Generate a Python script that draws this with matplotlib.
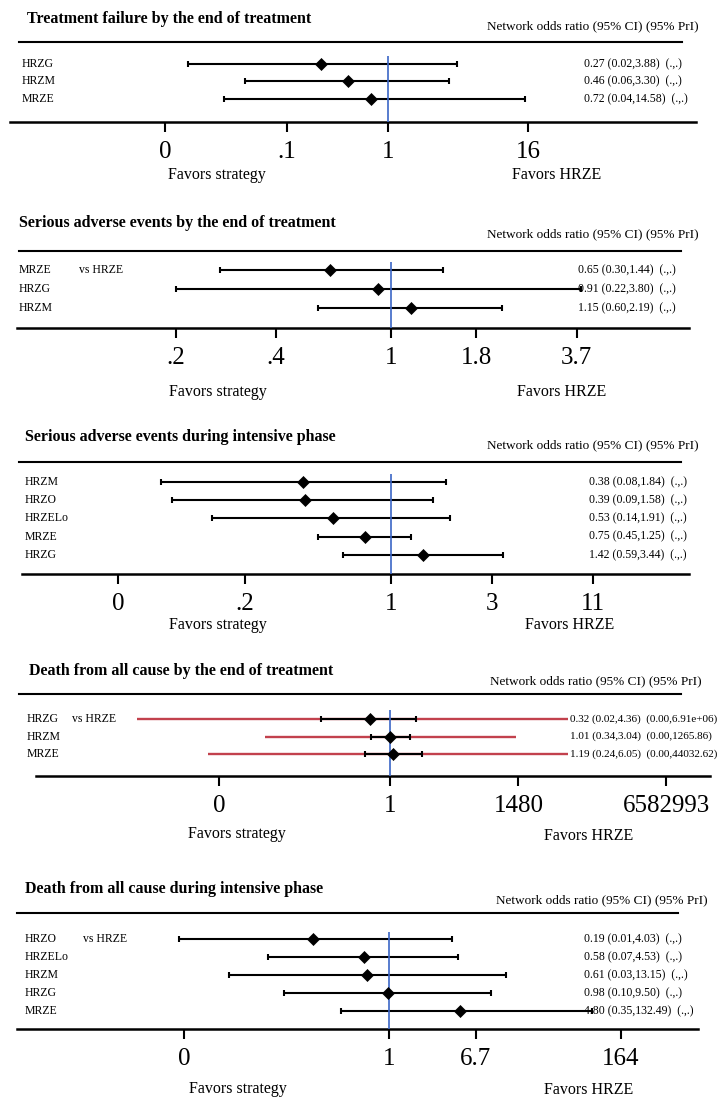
import numpy as np
import matplotlib.pyplot as plt
from matplotlib import transforms

plt.rcParams['font.family'] = ['Liberation Serif', 'DejaVu Serif']

W, H = 723, 1097
BLUE = '#3b66c6'
RED = '#c2414d'

# ---------------------------
# Data: network odds ratios vs HRZE
# ---------------------------
TF_TITLE = "Treatment failure by the end of treatment"
TF_NAMES = ["HRZG", "HRZM", "MRZE"]
TF_OR = [0.27, 0.46, 0.72]
TF_LO = [0.02, 0.06, 0.04]
TF_HI = [3.88, 3.30, 14.58]
TF_TICKS = [0.0127, 0.138, 1, 15.6]
TF_TICKLABELS = ["0", ".1", "1", "16"]

SAE_TITLE = "Serious adverse events by the end of treatment"
SAE_NAMES = ["MRZE", "HRZG", "HRZM"]
SAE_OR = [0.65, 0.91, 1.15]
SAE_LO = [0.30, 0.22, 0.60]
SAE_HI = [1.44, 3.80, 2.19]
SAE_TICKS = [0.22, 0.445, 1, 1.82, 3.7]
SAE_TICKLABELS = [".2", ".4", "1", "1.8", "3.7"]

SAEI_TITLE = "Serious adverse events during intensive phase"
SAEI_NAMES = ["HRZM", "HRZO", "HRZELo", "MRZE", "HRZG"]
SAEI_OR = [0.38, 0.39, 0.53, 0.75, 1.42]
SAEI_LO = [0.08, 0.09, 0.14, 0.45, 0.59]
SAEI_HI = [1.84, 1.58, 1.91, 1.25, 3.44]
SAEI_TICKS = [0.0498, 0.2, 1, 3.03, 9.2]
SAEI_TICKLABELS = ["0", ".2", "1", "3", "11"]

D_TITLE = "Death from all cause by the end of treatment"
D_NAMES = ["HRZG", "HRZM", "MRZE"]
D_OR = [0.32, 1.01, 1.19]
D_LO = [0.02, 0.34, 0.24]
D_HI = [4.36, 3.04, 6.05]
D_PRI_LO = [1.5e-8, 8.1e-4, 3.2e-5]
D_PRI_HI = [6.91e6, 1265.86, 44032.62]
D_TICKS = [6e-5, 1, 1480, 6582993]
D_TICKLABELS = ["0", "1", "1480", "6582993"]

DI_TITLE = "Death from all cause during intensive phase"
DI_NAMES = ["HRZO", "HRZELo", "HRZM", "HRZG", "MRZE"]
DI_OR = [0.19, 0.58, 0.61, 0.98, 4.80]
DI_LO = [0.01, 0.07, 0.03, 0.10, 0.35]
DI_HI = [4.03, 4.53, 13.15, 9.50, 132.49]
DI_TICKS = [0.011, 1, 6.7, 164]
DI_TICKLABELS = ["0", "1", "6.7", "164"]

# ---------------------------
# Panel layout (pixels)
# ---------------------------
PANELS = [
    dict(title=TF_TITLE, names=TF_NAMES, est=TF_OR, lo=TF_LO, hi=TF_HI,
         ticks=TF_TICKS, ticklabels=TF_TICKLABELS, vs=False,
         title_xy=(27, 19), head_xy=(699, 26), rule=(19, 682, 42),
         row0=64, step=17.5, blue_top=56, axis=(10, 696, 122),
         center=388, scale=51, label_x=22, text_x=584, text_size=8.5,
         fav=((217, 175), (557, 175)), clip=None),
    dict(title=SAE_TITLE, names=SAE_NAMES, est=SAE_OR, lo=SAE_LO, hi=SAE_HI,
         ticks=SAE_TICKS, ticklabels=SAE_TICKLABELS, vs=True, vs_x=79,
         title_xy=(19, 223), head_xy=(699, 234), rule=(19, 681, 251),
         row0=270, step=19, blue_top=262, axis=(17, 689, 328),
         center=391, scale=142, label_x=19, text_x=578, text_size=8.5,
         fav=((218, 392), (562, 392)), clip=None),
    dict(title=SAEI_TITLE, names=SAEI_NAMES, est=SAEI_OR, lo=SAEI_LO, hi=SAEI_HI,
         ticks=SAEI_TICKS, ticklabels=SAEI_TICKLABELS, vs=False,
         title_xy=(25, 437), head_xy=(699, 445), rule=(19, 681, 462),
         row0=482, step=18.2, blue_top=474, axis=(22, 689, 574),
         center=391, scale=91, label_x=25, text_x=589, text_size=8.5,
         fav=((218, 625), (570, 625)), clip=None),
    dict(title=D_TITLE, names=D_NAMES, est=D_OR, lo=D_LO, hi=D_HI,
         pri_lo=D_PRI_LO, pri_hi=D_PRI_HI,
         ticks=D_TICKS, ticklabels=D_TICKLABELS, vs=True, vs_x=72,
         title_xy=(29, 671), head_xy=(702, 681), rule=(19, 681, 694),
         row0=719, step=17.5, blue_top=710, axis=(36, 710, 776),
         center=390, scale=17.6, label_x=27, text_x=570, text_size=8.0,
         fav=((237, 834), (589, 836)), clip=(137, 568)),
    dict(title=DI_TITLE, names=DI_NAMES, est=DI_OR, lo=DI_LO, hi=DI_HI,
         ticks=DI_TICKS, ticklabels=DI_TICKLABELS, vs=True, vs_x=83,
         title_xy=(25, 889), head_xy=(708, 900), rule=(17, 678, 913),
         row0=939, step=18, blue_top=932, axis=(17, 698, 1029),
         center=389, scale=45.5, label_x=25, text_x=584, text_size=8.5,
         fav=((238, 1089), (589, 1090)), clip=(0, 592)),
]


def fx(x):
    return x / W


def fy(y):
    return 1 - y / H


def fmt(v):
    return f"{v:.2e}" if v >= 1e6 else f"{v:.2f}"


fig = plt.figure(figsize=(W / 100, H / 100), dpi=100)

for p in PANELS:
    x0, x1, ay = p['axis']
    rx0, rx1, ry = p['rule']
    c, s = p['center'], p['scale']
    ax = fig.add_axes([fx(x0), fy(ay), (x1 - x0) / W, (ay - ry) / H])
    ax.set_xscale('log')
    ax.set_xlim(np.exp((x0 - c) / s), np.exp((x1 - c) / s))
    ax.set_ylim((ay - p['row0']) / p['step'], (ry - p['row0']) / p['step'])

    rows = np.arange(len(p['names']))
    est = np.array(p['est'])
    lo = np.array(p['lo'])
    hi = np.array(p['hi'])
    if p['clip']:
        cl = np.exp((p['clip'][0] - c) / s)
        cr = np.exp((p['clip'][1] - c) / s)
    else:
        cl, cr = 0, np.inf
    lo_c = np.maximum(lo, cl)
    hi_c = np.minimum(hi, cr)

    # prediction intervals (red)
    if 'pri_lo' in p:
        plo = np.maximum(np.array(p['pri_lo']), cl)
        phi = np.minimum(np.array(p['pri_hi']), cr)
        ax.hlines(rows, plo, phi, color=RED, lw=1.7, zorder=1)

    # confidence intervals with caps
    ax.hlines(rows, lo_c, hi_c, color='black', lw=1.5, zorder=2)
    ax.plot(lo_c, rows, '|', color='black', ms=5, mew=1.5, zorder=2)
    ax.plot(hi_c, rows, '|', color='black', ms=5, mew=1.5, zorder=2)

    # null line
    ax.vlines(1, (ay - p['row0']) / p['step'], (p['blue_top'] - p['row0']) / p['step'],
              color=BLUE, lw=1.2, zorder=3)

    ax.plot(est, rows, 'D', color='black', ms=6.5, mew=0.5, zorder=4)

    for side in ['top', 'left', 'right']:
        ax.spines[side].set_visible(False)
    ax.spines['bottom'].set_linewidth(1.8)
    ax.set_yticks([])
    ax.set_xticks(p['ticks'])
    ax.set_xticklabels(p['ticklabels'])
    ax.xaxis.set_minor_locator(plt.NullLocator())
    ax.tick_params(axis='x', direction='out', length=7, width=1.5, labelsize=18, pad=6.5)
    ax.patch.set_visible(False)

    # top rule
    ax.plot([fx(rx0), fx(rx1)], [fy(ry), fy(ry)], color='black', lw=1.5,
            transform=fig.transFigure, clip_on=False)

    # texts
    fig.text(fx(p['title_xy'][0]), fy(p['title_xy'][1]), p['title'],
             fontsize=11.5, fontweight='bold', ha='left', va='center')
    fig.text(fx(p['head_xy'][0]), fy(p['head_xy'][1]),
             "Network odds ratio (95% CI) (95% PrI)", fontsize=9.5, ha='right', va='center')

    trans = transforms.blended_transform_factory(fig.transFigure, ax.transData)
    for i, name in enumerate(p['names']):
        ax.text(fx(p['label_x']), i, name, transform=trans, fontsize=8.5,
                ha='left', va='center')
        if 'pri_lo' in p:
            pri = f"({fmt(p['pri_lo'][i])},{fmt(p['pri_hi'][i])})"
        else:
            pri = "(.,.)"
        ax.text(fx(p['text_x']), i,
                f"{est[i]:.2f} ({lo[i]:.2f},{hi[i]:.2f})  {pri}",
                transform=trans, fontsize=p['text_size'], ha='left', va='center', zorder=1)
    if p['vs']:
        ax.text(fx(p['vs_x']), 0, "vs HRZE", transform=trans, fontsize=8.5,
                ha='left', va='center')

    (sx, sy), (hx, hy) = p['fav']
    fig.text(fx(sx), fy(sy), "Favors strategy", fontsize=11.5, ha='center', va='center')
    fig.text(fx(hx), fy(hy), "Favors HRZE", fontsize=11.5, ha='center', va='center')

fig.savefig("out.png", dpi=100)
